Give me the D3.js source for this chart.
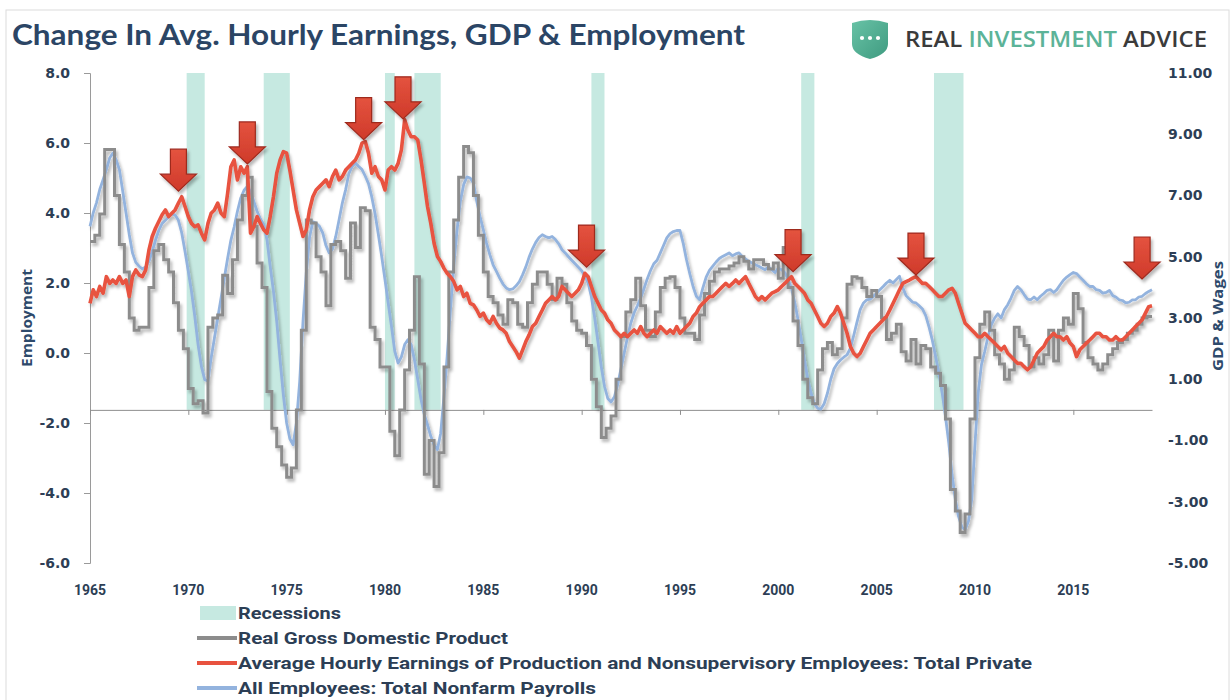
<!DOCTYPE html>
<html>
<head>
<meta charset="utf-8">
<script src="https://cdn.jsdelivr.net/npm/d3@7"></script>
<style>
  body { margin: 0; background: #fff; }
  svg { display: block; }
</style>
</head>
<body>
<div id="container"></div>
<script>
// recession periods (start, end)
const recessions = [
  ["1969-12", "1970-11"], ["1973-11", "1975-03"], ["1980-01", "1980-07"],
  ["1981-07", "1982-11"], ["1990-07", "1991-03"], ["2001-03", "2001-11"],
  ["2007-12", "2009-06"]
];

// Real GDP, YoY %, quarterly from 1965 Q1 (right axis)
const gdp = [
  5.5, 5.7, 6.4, 8.5,  8.5, 7.0, 5.4, 4.5,  3.0, 2.6, 2.7, 2.7,  4.0, 5.2, 5.4, 4.9,
  4.5, 3.5, 2.6, 2.0,  0.7, 0.2, 0.3, -0.1,  2.7, 3.0, 3.1, 4.4,  3.8, 4.9, 6.2, 7.0,
  7.6, 6.0, 4.8, 4.0,  0.6, -0.6, -1.2, -1.8,  -2.2, -1.9, 0.0, 2.6,  6.2, 6.1, 5.0, 4.5,
  3.4, 5.4, 5.5, 5.2,  4.3, 6.1, 5.3, 6.6,  6.5, 2.7, 2.3, 1.4,  1.4, -0.7, -1.5, 0.0,
  1.3, 2.6, 4.35, 1.5,  -2.1, -1.0, -2.5, -1.4,  1.4, 4.5, 6.2, 7.6,  8.6, 8.4, 7.0, 5.7,
  4.5, 3.7, 3.5, 3.1,  2.8, 3.6, 3.5, 2.8,  2.7, 3.5, 4.1, 4.5,  4.5, 4.1, 3.6, 4.3,
  4.1, 3.5, 2.9, 2.6,  2.5, 2.1, 1.0, 0.1,  -0.9, -0.6, -0.2, 1.0,  2.4, 3.2, 3.6, 4.3,
  3.4, 2.6, 2.4, 3.2,  4.0, 4.3, 4.35, 4.0,  3.0, 2.5, 2.5, 2.3,  3.1, 3.8, 4.2, 4.5,
  4.6, 4.6, 4.7, 4.8,  5.0, 4.85, 4.6, 4.9,  4.9, 4.75, 4.6, 4.8,  4.3, 5.3, 4.0, 2.9,
  2.1, 1.0, 0.4, 0.2,  1.3, 2.0, 2.2, 1.8,  2.0, 3.0, 4.1, 4.35,  4.3, 4.0, 3.7, 3.9,
  3.7, 3.0, 2.3, 2.5,  2.8, 1.9, 1.6, 2.3,  1.5, 2.1, 2.0, 1.4,  1.2, 0.8, -0.3, -2.6,
  -3.3, -4.0, -3.4, -0.3,  1.7, 2.8, 3.2, 2.6,  1.8, 1.5, 1.0, 1.3,  2.7, 2.4, 2.1, 1.4,
  1.7, 1.5, 1.8, 2.6,  1.6, 2.6, 3.0, 2.8,  3.8, 3.3, 2.2, 1.7,  1.5, 1.3, 1.5, 1.8,
  2.0, 2.2, 2.3, 2.5,  2.6, 2.8, 3.0, 3.05
];

// Avg hourly earnings, YoY %, every 2 months from Jan 1965 (right axis)
const wages = [
  3.48, 3.92, 3.70, 4.03, 3.81, 4.35,  4.13, 4.24, 4.13, 4.35, 4.13, 4.24,
  3.70, 4.35, 4.57, 4.41, 4.35, 4.57,  5.22, 5.66, 5.93, 6.15, 6.37, 6.53,
  6.31, 6.42, 6.53, 6.75, 6.96, 6.64,  6.31, 6.09, 5.98, 6.04, 5.77, 5.55,
  6.09, 6.42, 6.53, 6.75, 6.42, 6.31,  7.07, 7.94, 8.16, 7.51, 7.94, 7.73,
  7.94, 5.77, 5.98, 6.31, 6.09, 5.88,  5.77, 6.31, 6.96, 7.73, 8.16, 8.43,
  8.38, 7.83, 7.18, 6.53, 6.09, 5.66,  5.88, 6.53, 6.96, 7.18, 7.29, 7.40,
  7.51, 7.29, 7.62, 7.83, 7.51, 7.62,  7.83, 7.94, 8.05, 8.16, 8.38, 8.71,
  8.76, 8.38, 7.73, 7.94, 7.62, 7.51,  7.18, 7.83, 7.94, 7.83, 8.05, 8.49,
  9.47, 9.14, 8.92, 8.92, 8.81, 8.16,  7.40, 6.64, 6.09, 5.44, 5.01, 4.84,
  4.62, 4.46, 4.35, 4.19, 3.92, 4.03,  3.70, 3.81, 3.48, 3.43, 3.26, 3.05,
  3.16, 2.94, 2.83, 3.05, 2.83, 2.67,  2.61, 2.50, 2.23, 2.07, 1.90, 1.69,
  1.96, 2.23, 2.45, 2.72, 2.83, 3.05,  3.26, 3.48, 3.59, 3.70, 3.59, 3.70,
  4.03, 3.92, 3.81, 3.70, 3.81, 3.92,  4.13, 4.46, 4.35, 4.03, 3.70, 3.48,
  3.26, 3.16, 2.94, 2.83, 2.61, 2.50,  2.39, 2.50, 2.39, 2.50, 2.61, 2.50,
  2.72, 2.50, 2.39, 2.50, 2.61, 2.50,  2.72, 2.61, 2.50, 2.61, 2.50, 2.72,
  2.50, 2.61, 2.72, 2.83, 3.05, 3.16,  3.37, 3.48, 3.59, 3.70, 3.70, 3.81,
  3.92, 4.03, 4.13, 4.03, 4.13, 4.24,  4.13, 4.24, 4.35, 4.13, 3.92, 3.70,
  3.59, 3.70, 3.59, 3.70, 3.81, 3.86,  3.92, 4.03, 4.13, 4.24, 4.35, 4.13,
  4.03, 3.92, 3.81, 3.59, 3.48, 3.26,  3.05, 2.83, 2.72, 2.83, 3.05, 3.16,
  3.37, 3.16, 2.83, 2.50, 2.07, 1.85,  1.74, 1.85, 2.07, 2.28, 2.50, 2.61,
  2.72, 2.83, 2.94, 3.05, 3.26, 3.48,  3.70, 3.92, 4.13, 4.19, 4.24, 4.30,
  4.35, 4.24, 4.13, 4.13, 4.03, 3.92,  3.81, 3.70, 3.70, 3.81, 3.92, 3.97,
  3.81, 3.48, 3.16, 2.83, 2.72, 2.61,  2.50, 2.39, 2.39, 2.50, 2.39, 2.28,
  2.18, 2.07, 1.96, 2.07, 1.85, 1.74,  1.63, 1.52, 1.52, 1.41, 1.31, 1.41,
  1.63, 1.85, 1.96, 2.07, 2.28, 2.39,  2.50, 2.39, 2.39, 2.28, 2.39, 2.18,
  2.07, 1.74, 1.96, 2.07, 2.18, 2.28,  2.39, 2.50, 2.50, 2.39, 2.39, 2.28,
  2.28, 2.39, 2.28, 2.28, 2.39, 2.50,  2.61, 2.72, 2.83, 2.94, 3.16, 3.37,
  3.40
];

// Total nonfarm payrolls, YoY %, every 2 months from Jan 1965 (left axis)
const payrolls = [
  3.62, 4.00, 4.29, 4.67, 4.95, 5.24,  5.57, 5.71, 5.52, 5.24, 4.62, 4.00,
  3.38, 2.86, 2.59, 2.48, 2.40, 2.46,  2.62, 2.90, 3.22, 3.50, 3.70, 3.79,
  3.89, 3.98, 3.94, 3.79, 3.43, 2.90,  2.33, 1.76, 1.05, 0.24, -0.38, -0.76,
  -0.80, -0.14, 0.43, 1.00, 1.57, 2.14,  2.71, 3.22, 3.60, 4.05, 4.43, 4.65,
  4.76, 4.62, 4.33, 4.05, 3.83, 3.67,  3.24, 2.48, 1.76, 0.90, -0.20, -1.20,
  -2.00, -2.45, -2.62, -2.00, -0.80, 0.90,  2.30, 3.30, 3.75, 3.71, 3.62, 3.43,
  3.07, 2.86, 2.97, 3.33, 3.81, 4.29,  4.67, 5.12, 5.33, 5.43, 5.33, 5.24,
  5.05, 4.84, 4.46, 3.98, 3.38, 2.76,  2.10, 1.43, 0.76, 0.05, -0.29, -0.11,
  0.24, 0.38, 0.24, -0.19, -0.76, -1.33,  -1.76, -2.05, -2.38, -2.62, -2.76, -2.29,
  -1.24, -0.10, 1.24, 2.48, 3.52, 4.33,  4.81, 5.03, 5.00, 4.86, 4.33, 3.90,
  3.52, 3.14, 2.81, 2.52, 2.33, 2.14,  1.97, 1.86, 1.81, 1.83, 1.92, 2.04,
  2.24, 2.46, 2.74, 2.97, 3.16, 3.30,  3.38, 3.33, 3.29, 3.33, 3.24, 3.12,
  2.95, 2.86, 2.75, 2.65, 2.55, 2.45,  2.35, 2.20, 2.00, 1.60, 1.00, 0.30,
  -0.40, -0.95, -1.30, -1.40, -1.25, -0.90,  -0.45, 0.00, 0.45, 0.85, 1.15, 1.35,
  1.57, 1.83, 2.11, 2.35, 2.55, 2.65,  2.86, 3.07, 3.29, 3.41, 3.47, 3.50,
  3.50, 3.14, 2.67, 2.27, 1.90, 1.62,  1.52, 1.86, 2.17, 2.36, 2.48, 2.60,
  2.70, 2.76, 2.81, 2.86, 2.78, 2.83,  2.86, 2.76, 2.69, 2.62, 2.57, 2.52,
  2.48, 2.43, 2.38, 2.46, 2.38, 2.30,  2.43, 2.38, 2.30, 2.10, 1.85, 1.45,
  0.95, 0.40, -0.20, -0.75, -1.15, -1.45,  -1.58, -1.60, -1.45, -1.15, -0.75, -0.45,
  -0.30, -0.20, -0.12, -0.05, 0.14, 0.50,  0.88, 1.24, 1.43, 1.52, 1.54, 1.62,
  1.71, 1.81, 1.90, 2.00, 2.08, 2.00,  2.10, 2.19, 1.86, 1.64, 1.54, 1.45,
  1.43, 1.35, 1.26, 1.07, 0.74, 0.36,  -0.11, -0.57, -1.14, -1.81, -2.57, -3.48,
  -4.19, -4.67, -4.97, -5.05, -4.81, -4.19,  -2.60, -1.14, -0.33, 0.05, 0.48, 0.81,
  1.00, 1.12, 1.00, 1.24, 1.38, 1.57,  1.79, 1.90, 1.81, 1.67, 1.54, 1.52,
  1.60, 1.52, 1.62, 1.70, 1.79, 1.81,  1.73, 1.81, 1.95, 2.08, 2.17, 2.24,
  2.30, 2.27, 2.17, 2.08, 1.98, 1.90,  1.90, 1.81, 1.79, 1.71, 1.73, 1.79,
  1.64, 1.60, 1.52, 1.50, 1.43, 1.45,  1.52, 1.52, 1.60, 1.62, 1.70, 1.76,
  1.81
];

// red arrow annotations: date and value (right axis) at the tip
const arrowDates = ["1969-07", "1973-01", "1978-12", "1980-12", "1990-04", "2000-10", "2007-01", "2018-07"];
const arrowTips = [7.11, 8.0, 8.79, 9.47, 4.63, 4.48, 4.37, 4.24];

const leftTicks = [-6, -4, -2, 0, 2, 4, 6, 8];
const rightTicks = [-5, -3, -1, 1, 3, 5, 7, 9, 11];
const yearTicks = [1965, 1970, 1975, 1980, 1985, 1990, 1995, 2000, 2005, 2010, 2015];

const legendItems = [
  { label: "Recessions", type: "rect", color: "#c6e9e1", len: 103 },
  { label: "Real Gross Domestic Product", type: "line", color: "#8c8c8c", len: 270 },
  { label: "Average Hourly Earnings of Production and Nonsupervisory Employees: Total Private", type: "line", color: "#e8523f", len: 794 },
  { label: "All Employees: Total Nonfarm Payrolls", type: "line", color: "#93b3de", len: 358 }
];

const W = 1231, H = 700;
const parse = d3.timeParse("%Y-%m");

const x = d3.scaleTime()
  .domain([new Date(1965, 0, 1), new Date(2019, 0, 1)])
  .range([90, 1152]);
const yL = d3.scaleLinear().domain([-6, 8]).range([563, 73]);
const yR = d3.scaleLinear().domain([-5, 11]).range([563, 73]);

const svg = d3.select("#container").append("svg")
  .attr("width", W)
  .attr("height", H);

const defs = svg.append("defs");
defs.append("filter").attr("id", "shadow")
  .attr("x", "-10%").attr("y", "-10%").attr("width", "120%").attr("height", "130%")
  .append("feDropShadow")
  .attr("dx", 2).attr("dy", 3).attr("stdDeviation", 1.6)
  .attr("flood-color", "#000").attr("flood-opacity", 0.28);

const ag = defs.append("linearGradient").attr("id", "arrowGrad")
  .attr("x1", "0%").attr("y1", "0%").attr("x2", "0%").attr("y2", "100%");
ag.append("stop").attr("offset", "0%").attr("stop-color", "#e4533f");
ag.append("stop").attr("offset", "100%").attr("stop-color", "#cf3a2a");

const sg = defs.append("linearGradient").attr("id", "shieldGrad")
  .attr("x1", "0%").attr("y1", "0%").attr("x2", "100%").attr("y2", "100%");
sg.append("stop").attr("offset", "0%").attr("stop-color", "#68c2a6");
sg.append("stop").attr("offset", "100%").attr("stop-color", "#3f9b80");

// outer frame
svg.append("rect")
  .attr("x", 6).attr("y", 10).attr("width", W - 8).attr("height", H)
  .attr("fill", "#fff").attr("stroke", "#dcdcdc");

// title
svg.append("text")
  .attr("x", 12).attr("y", 45)
  .attr("textLength", 733).attr("lengthAdjust", "spacingAndGlyphs")
  .style("font-family", "Lato, 'Open Sans', sans-serif")
  .style("font-weight", 700).style("font-size", "28px")
  .attr("fill", "#2b4565")
  .text("Change In Avg. Hourly Earnings, GDP & Employment");

// logo
const logo = svg.append("g");
logo.append("path")
  .attr("d", "M852,23 Q870,17 888,23 L888,44 Q888,54 870,59 Q852,54 852,44 Z")
  .attr("fill", "url(#shieldGrad)");
[862, 870, 878].forEach(cx => {
  logo.append("circle").attr("cx", cx).attr("cy", 38).attr("r", 2.1).attr("fill", "#fff");
});
const logoText = logo.append("text")
  .attr("x", 905).attr("y", 47)
  .attr("textLength", 302).attr("lengthAdjust", "spacingAndGlyphs")
  .style("font-family", "'Open Sans', Arial, sans-serif")
  .style("font-weight", 600)
  .style("font-size", "21px");
logoText.append("tspan").attr("fill", "#3b3b3b").text("REAL ");
logoText.append("tspan").attr("fill", "#5cb398").text("INVESTMENT ");
logoText.append("tspan").attr("fill", "#3b3b3b").text("ADVICE");

// recession bands
svg.append("g").selectAll("rect")
  .data(recessions)
  .enter()
  .append("rect")
  .attr("x", d => x(parse(d[0])))
  .attr("y", yR(11))
  .attr("width", d => x(parse(d[1])) - x(parse(d[0])))
  .attr("height", yR(0) - yR(11))
  .attr("fill", "#c6e9e1");

// left axis
const leftAxis = svg.append("g")
  .attr("transform", "translate(90,0)")
  .call(d3.axisLeft(yL).tickValues(leftTicks).tickSize(6).tickPadding(14).tickFormat(d => d.toFixed(1)));
leftAxis.select(".domain").attr("stroke", "#9a9a9a");
leftAxis.selectAll(".tick line").attr("stroke", "#9a9a9a");

// right axis (labels only)
const rightAxis = svg.append("g")
  .attr("transform", "translate(1152,0)")
  .call(d3.axisRight(yR).tickValues(rightTicks).tickSize(0).tickPadding(16).tickFormat(d => d.toFixed(2)));
rightAxis.select(".domain").remove();

svg.selectAll(".tick text")
  .attr("fill", "#2d3e55")
  .style("font-family", "'DejaVu Sans', Verdana, sans-serif")
  .style("font-weight", 700)
  .style("font-size", "14px");

// x axis line crossing at GDP & wages = 0
const xAxis = svg.append("g")
  .attr("transform", "translate(0," + yR(0) + ")")
  .call(d3.axisBottom(x)
    .tickValues(yearTicks.map(y => new Date(y, 0, 1)))
    .tickSize(5).tickSizeOuter(0).tickFormat(""));
xAxis.select(".domain").attr("stroke", "#8f8f8f");
xAxis.selectAll(".tick line").attr("stroke", "#8f8f8f");

// year labels at the bottom
svg.append("g").selectAll("text")
  .data(yearTicks)
  .enter()
  .append("text")
  .attr("x", d => x(new Date(d, 0, 1)))
  .attr("y", 595)
  .attr("text-anchor", "middle")
  .attr("fill", "#2d3e55")
  .style("font-family", "'Liberation Sans Narrow', 'Roboto', sans-serif")
  .style("font-weight", 700).style("font-size", "14px")
  .text(d => d);

// axis titles
svg.append("text")
  .attr("transform", "translate(32,318) rotate(-90)")
  .attr("text-anchor", "middle")
  .attr("textLength", 98).attr("lengthAdjust", "spacingAndGlyphs")
  .attr("fill", "#2e4a6b")
  .style("font-family", "'Open Sans', sans-serif")
  .style("font-weight", 700).style("font-size", "15px")
  .text("Employment");
svg.append("text")
  .attr("transform", "translate(1223,316) rotate(-90)")
  .attr("text-anchor", "middle")
  .attr("textLength", 110).attr("lengthAdjust", "spacingAndGlyphs")
  .attr("fill", "#2e4a6b")
  .style("font-family", "'Open Sans', sans-serif")
  .style("font-weight", 700).style("font-size", "15px")
  .text("GDP & Wages");

// series
const biDate = i => new Date(1965, i * 2, 1);
const qDate = i => new Date(1965, i * 3, 1);

const lineL = d3.line().x((d, i) => x(biDate(i))).y(d => yL(d));
const lineR = d3.line().x((d, i) => x(biDate(i))).y(d => yR(d));
const gdpPts = gdp.concat([gdp[gdp.length - 1]]);
const lineG = d3.line().curve(d3.curveStepAfter).x((d, i) => x(qDate(i))).y(d => yR(d));

const series = svg.append("g").attr("filter", "url(#shadow)");

series.append("path")
  .datum(payrolls)
  .attr("d", lineL)
  .attr("fill", "none")
  .attr("stroke", "#93b3de")
  .attr("stroke-width", 2.8)
  .attr("stroke-linejoin", "round");

series.append("path")
  .datum(gdpPts)
  .attr("d", lineG)
  .attr("fill", "none")
  .attr("stroke", "#8c8c8c")
  .attr("stroke-width", 3);

series.append("path")
  .datum(wages)
  .attr("d", lineR)
  .attr("fill", "none")
  .attr("stroke", "#e8523f")
  .attr("stroke-width", 3.6)
  .attr("stroke-linejoin", "round");

// arrows
const arrowPath = "M0,0 L-18,-17 L-8,-17 L-8,-42 L8,-42 L8,-17 L18,-17 Z";
svg.append("g").attr("filter", "url(#shadow)")
  .selectAll("path")
  .data(arrowDates)
  .enter()
  .append("path")
  .attr("transform", (d, i) => "translate(" + x(parse(d)) + "," + (yR(arrowTips[i]) - 1) + ")")
  .attr("d", arrowPath)
  .attr("fill", "url(#arrowGrad)")
  .attr("stroke", "#9e2a1f")
  .attr("stroke-width", 1.2)
  .attr("stroke-linejoin", "miter");

// legend
const legend = svg.append("g");
legendItems.forEach((item, i) => {
  const cy = 613 + i * 25;
  if (item.type === "rect") {
    legend.append("rect")
      .attr("x", 200).attr("y", cy - 7).attr("width", 36).attr("height", 14)
      .attr("fill", item.color);
  } else {
    legend.append("line")
      .attr("x1", 197).attr("x2", 237).attr("y1", cy).attr("y2", cy)
      .attr("stroke", item.color).attr("stroke-width", 4);
  }
  legend.append("text")
    .attr("x", 238).attr("y", cy + 6)
    .attr("textLength", item.len).attr("lengthAdjust", "spacingAndGlyphs")
    .attr("fill", "#2c3e55")
    .style("font-family", "'Liberation Sans Narrow', 'Roboto', sans-serif")
    .style("font-weight", 700).style("font-size", "17px")
    .text(item.label);
});
</script>
</body>
</html>
